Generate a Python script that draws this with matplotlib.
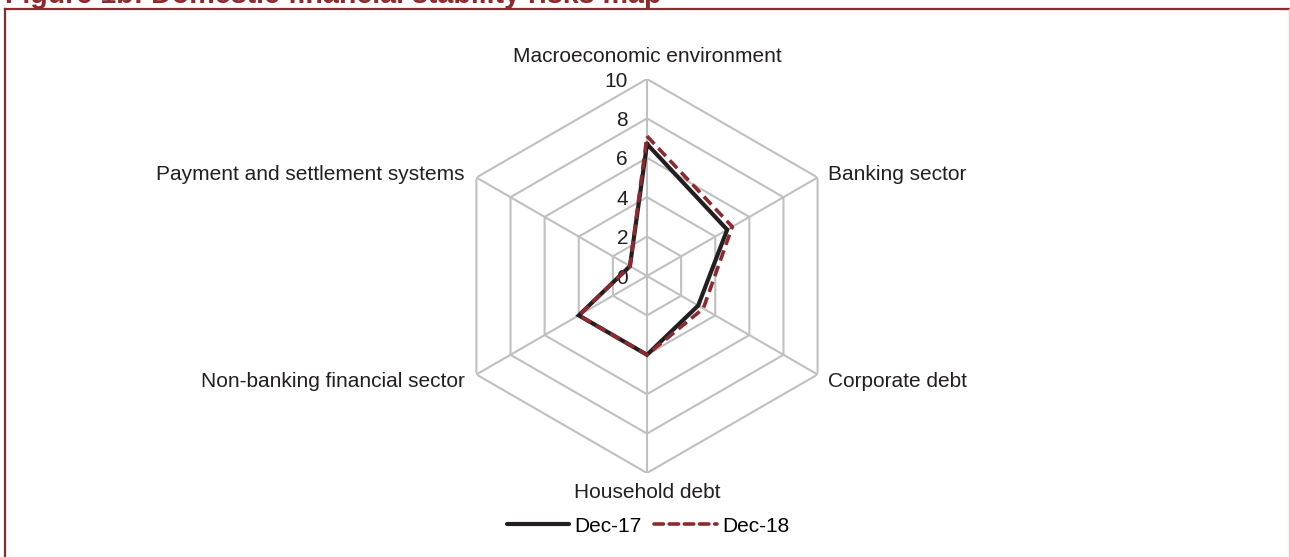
import numpy as np
import matplotlib.pyplot as plt
from matplotlib.lines import Line2D

plt.rcParams['font.family'] = ['Liberation Sans', 'DejaVu Sans']

# Risk dimensions, clockwise from the top
categories = ['Macroeconomic environment', 'Banking sector', 'Corporate debt',
              'Household debt', 'Non-banking financial sector',
              'Payment and settlement systems']
dec17 = [6.7, 4.7, 3.0, 4.0, 4.0, 1.0]
dec18 = [7.1, 5.0, 3.3, 4.0, 4.0, 1.0]
series_names = ['Dec-17', 'Dec-18']
r_ticks = [0, 2, 4, 6, 8, 10]

red = '#8c2a2f'
grid_col = '#c0c0c0'

W, H = 1290, 557
fig = plt.figure(figsize=(W / 100, H / 100), dpi=100)

# polar axes placed so the centre sits at (647, 276) px with radius 197 px
cx, cy, R = 647, 276, 197
ax = fig.add_axes([(cx - R) / W, (H - cy - R) / H, 2 * R / W, 2 * R / H],
                  projection='polar')
ax.set_theta_zero_location('N')
ax.set_theta_direction(-1)
ax.set_ylim(0, 10)
ax.axis('off')

n = len(categories)
theta = np.linspace(0, 2 * np.pi, n, endpoint=False)
theta_c = np.append(theta, theta[0])

# hexagonal grid + spokes
for r in r_ticks[1:]:
    ax.plot(theta_c, [r] * (n + 1), color=grid_col, lw=1.5, zorder=1)
for t in theta:
    ax.plot([t, t], [0, 10], color=grid_col, lw=1.5, zorder=1)

# radial tick labels on the top spoke
for r in r_ticks:
    ax.annotate(str(r), xy=(0, r), xytext=(-19, 0), textcoords='offset pixels',
                ha='right', va='center_baseline', fontsize=15, color='#231f20')

# category labels around the outer ring
offsets = [(0, 17, 'center'), (10, -2, 'left'), (10, -12.5, 'left'),
           (0, -25, 'center'), (-12, -12.5, 'right'), (-12, -2, 'right')]
for t, lab, (dx, dy, ha) in zip(theta, categories, offsets):
    ax.annotate(lab, xy=(t, 10), xytext=(dx, dy), textcoords='offset pixels',
                ha=ha, va='baseline', fontsize=15, color='#231f20')

ax.plot(theta_c, dec17 + dec17[:1], color='#231f20', lw=3.0, zorder=3,
        solid_joinstyle='miter')
ax.plot(theta_c, dec18 + dec18[:1], color=red, lw=2.6, ls=(0, (3, 1.6)),
        zorder=4)

handles = [Line2D([], [], color='#231f20', lw=3.0, solid_capstyle='round'),
           Line2D([], [], color=red, lw=2.6, ls=(0, (2.6, 1.6)),
                  dash_capstyle='round')]
fig.legend(handles, series_names, loc='center', ncol=2, frameon=False,
           bbox_to_anchor=(648 / W, 1 - 526 / H), fontsize=15,
           handlelength=3.0, handletextpad=0.25, columnspacing=0.6)

# frame and heading (its upper part runs off the top edge)
fig.add_artist(Line2D([5 / W, 1], [1 - 8.5 / H] * 2, color=red, lw=1.6))
fig.add_artist(Line2D([5 / W] * 2, [0, 1 - 8.5 / H], color=red, lw=1.6))
fig.add_artist(Line2D([1288.5 / W] * 2, [0, 1 - 8.5 / H], color='#dcc8ca', lw=1))
fig.text(5 / W, 1 - 3.0 / H, 'Figure 1b: Domestic financial stability risks map',
         ha='left', va='baseline', fontsize=20.6, fontweight='bold', color=red)

fig.savefig('out.png', dpi=100)
